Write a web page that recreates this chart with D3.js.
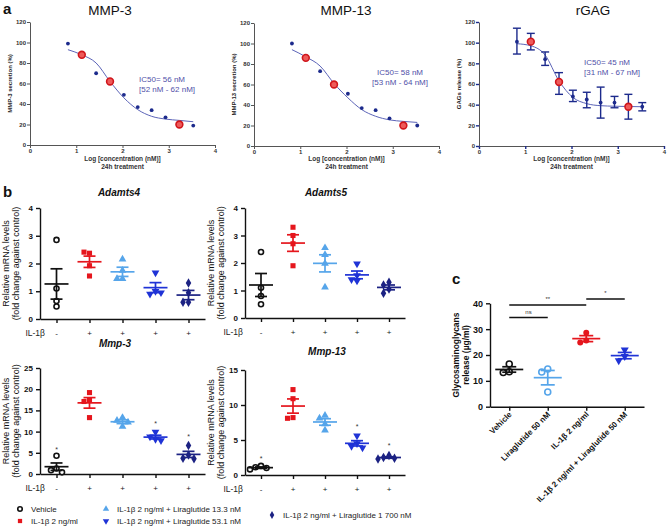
<!DOCTYPE html>
<head>
<meta charset="utf-8">
<script src="https://cdnjs.cloudflare.com/ajax/libs/d3/7.8.5/d3.min.js"></script>
<style>
  body { margin:0; background:#fff; }
  svg { font-family: "Liberation Sans", Arial, sans-serif; }
</style>
</head>
<body>
<script>
// ---- panel a : dose response (x = log concentration nM)
var logConc = [0.82, 1.12, 1.43, 1.73, 2.03, 2.33, 2.63, 2.93, 3.23, 3.53];
var highlighted = [1, 3, 8];
var mmp3Secretion = [99, 88, 70, 62, 49, 37, 34, 27, 20, 19];
var mmp3Fit = [93, 88, 80, 62, 46, 34.5, 28, 25.3, 24, 22.7];
var mmp13Secretion = [100, 86, 73, 60, 51, 37, 35, 27, 20, 20];
var mmp13Fit = [94, 87, 78, 61, 47, 35.5, 29, 25.5, 24, 23];
var gagRelease = [101, 101, 84, 62, 48, 45, 42, 42, 38, 38];
var gagHigh = [114, 109, 91, 71, 54, 52, 57, 48, 50, 42];
var gagLow = [89, 93, 78, 50, 43, 37, 27, 37, 26, 34];
var gagFit = [99, 97, 88, 63, 47, 41, 39, 38.5, 38.2, 38];

// ---- panel b : relative mRNA levels, 4 replicates per group
var groups = ["Vehicle", "IL-1β 2 ng/ml", "IL-1β 2 ng/ml + Liraglutide 13.3 nM",
              "IL-1β 2 ng/ml + Liraglutide 53.1 nM", "IL-1β 2 ng/ml + Liraglutide 1 700 nM"];
var il1bSigns = ["-", "+", "+", "+", "+"];
var adamts4 = [[2.85, 1.1, 0.65, 0.45], [2.37, 2.41, 1.92, 1.55], [2.15, 1.75, 1.45, 1.45],
               [1.67, 1.0, 0.9, 0.95], [1.3, 0.95, 0.6, 0.6]];
var adamts5 = [[2.4, 1.1, 0.8, 0.5], [3.3, 3.0, 2.7, 1.9], [2.55, 2.3, 1.98, 1.12],
               [1.97, 1.55, 1.4, 1.35], [1.3, 1.2, 1.05, 0.9]];
var mmp3 = [[4.3, 1.3, 0.9, 0.4], [19.2, 17.5, 17.1, 13.3], [13.3, 12.6, 12.2, 11.2],
            [9.9, 8.8, 8.2, 7.9], [6.7, 4.5, 3.7, 3.6]];
var mmp13 = [[1.3, 1.1, 1.0, 0.8], [12.2, 10.9, 8.2, 8.1], [8.5, 8.1, 7.3, 6.4],
             [5.6, 4.5, 4.1, 3.9], [2.8, 2.5, 2.4, 2.3]];
var mmp3Stars = [6.2, null, null, 12.3, 9.3];
var mmp13Stars = [2.6, null, null, 7.1, 4.5];

// ---- panel c : glycosaminoglycans release (µg/ml)
var gagGroups = ["Vehicle", "Liraglutide 50 nM", "IL-1β 2 ng/ml", "IL-1β 2 ng/ml + Liraglutide 50 nM"];
var gagValues = [[16.5, 13.5, 13.2], [14.6, 13.4, 5.7], [28.6, 25.6, 24.8], [22.0, 19.5, 17.8]];
var sigBrackets = [{from: 0, to: 1, level: 34.5, label: "ns"},
                   {from: 0, to: 2, level: 39.3, label: "**"},
                   {from: 2, to: 3, level: 41.7, label: "*"}];

var colors = ["#111", "#e5161d", "#56a5ea", "#1f33d6", "#1c2283"];
var shapes = [d3.symbolCircle, d3.symbolSquare, d3.symbolTriangle, d3.symbolTriangle, d3.symbolDiamond];

var svg = d3.select("body").append("svg").attr("width", 669).attr("height", 532);

function label(txt, x, y, size, opts) {
  opts = opts || {};
  return svg.append("text").text(txt).attr("x", x).attr("y", y)
    .attr("font-size", size).attr("font-weight", opts.weight || "normal")
    .attr("font-style", opts.style || "normal").attr("fill", opts.fill || "#111")
    .attr("text-anchor", opts.anchor || "start");
}
function vlabel(txt, x, y, size, weight) {
  svg.append("text").text(txt).attr("transform", "translate(" + x + "," + y + ") rotate(-90)")
    .attr("text-anchor", "middle").attr("font-size", size).attr("font-weight", weight || "normal")
    .attr("fill", "#111");
}

// ================= panel a
function doseResponse(o) {
  var x = d3.scaleLinear().domain([0, 4]).range([o.left, o.right]);
  var y = d3.scaleLinear().domain([0, 120]).range([o.bottom, o.top]);
  var g = svg.append("g");
  g.append("g").attr("transform", "translate(0," + o.bottom + ")")
    .call(d3.axisBottom(x).ticks(4).tickSize(3).tickPadding(1).tickSizeOuter(0).tickFormat(d3.format("d")));
  g.append("g").attr("transform", "translate(" + o.left + ",0)")
    .call(d3.axisLeft(y).tickValues(d3.range(0, 121, 20)).tickSize(3).tickPadding(1)
      .tickSizeOuter(0).tickFormat(d3.format("d")));
  g.selectAll(".domain, .tick line").attr("stroke", "#555");
  g.selectAll(".tick text").attr("font-size", 6).attr("font-weight", "bold").attr("fill", "#333");

  var cx = (o.left + o.right) / 2;
  label("Log [concentration (nM)]", cx, 161, 6.5, {anchor: "middle", weight: "bold", fill: "#333"});
  label("24h treatment", cx, 168.5, 6.5, {anchor: "middle", weight: "bold", fill: "#333"});
  svg.append("text").text(o.ylab).attr("transform", "translate(" + (o.left - 18) + "," + ((o.top + o.bottom) / 2) + ") rotate(-90)")
    .attr("text-anchor", "middle").attr("font-size", 6).attr("font-weight", "bold").attr("fill", "#222");
  label(o.title, o.titleX, 15, 13.5, {anchor: "middle"});

  g.append("path").datum(logConc)
    .attr("d", d3.line().x(function(d) { return x(d); })
      .y(function(d, i) { return y(o.fit[i]); }).curve(d3.curveMonotoneX))
    .attr("fill", "none").attr("stroke", "#5c64b8").attr("stroke-width", 1);

  if (o.hi) {
    logConc.forEach(function(c, i) {
      var px = x(c);
      g.append("line").attr("x1", px).attr("x2", px).attr("y1", y(o.hi[i])).attr("y2", y(o.lo[i]));
      g.append("line").attr("x1", px - 4).attr("x2", px + 4).attr("y1", y(o.hi[i])).attr("y2", y(o.hi[i]));
      g.append("line").attr("x1", px - 4).attr("x2", px + 4).attr("y1", y(o.lo[i])).attr("y2", y(o.lo[i]));
    });
    g.selectAll("line").attr("stroke", "#1c2a8c").attr("stroke-width", 1.4);
  }
  g.append("g").selectAll("circle").data(logConc).join("circle")
    .attr("cx", function(d) { return x(d); })
    .attr("cy", function(d, i) { return y(o.values[i]); })
    .attr("r", function(d, i) { return highlighted.indexOf(i) >= 0 ? 3.4 : 1.9; })
    .attr("fill", function(d, i) { return highlighted.indexOf(i) >= 0 ? "#ee5a5a" : "#1c2a8c"; })
    .attr("stroke", function(d, i) { return highlighted.indexOf(i) >= 0 ? "#d0161c" : "none"; })
    .attr("stroke-width", 1.6);

  o.ic50.forEach(function(t, k) {
    label(t, o.icX, o.icY + k * 9.5, 8, {fill: "#5050a8", anchor: o.icAnchor || "start"});
  });
}

label("a", 3, 14, 15, {weight: "bold"});
doseResponse({left: 30, right: 215, top: 22, bottom: 145, title: "MMP-3", titleX: 110,
  ylab: "MMP-3 secretion (%)", values: mmp3Secretion, fit: mmp3Fit,
  ic50: ["IC50= 56 nM", "[52 nM - 62 nM]"], icX: 139, icY: 82});
doseResponse({left: 254, right: 439, top: 23, bottom: 146, title: "MMP-13", titleX: 346,
  ylab: "MMP-13 secretion (%)", values: mmp13Secretion, fit: mmp13Fit,
  ic50: ["IC50= 58 nM", "[53 nM - 64 nM]"], icX: 400, icY: 75, icAnchor: "middle"});
doseResponse({left: 479, right: 664, top: 22, bottom: 146, title: "rGAG", titleX: 593,
  ylab: "GAGs release (%)", values: gagRelease, fit: gagFit, hi: gagHigh, lo: gagLow,
  ic50: ["IC50= 45 nM", "[31 nM - 67 nM]"], icX: 584, icY: 65});

// ================= shared helpers for dot plots
function swarm(vals, y, size) {
  var placed = [];
  return vals.map(function(v) {
    var py = y(v), cands = [0, -size, size, -2 * size, 2 * size], off = 0;
    for (var k = 0; k < cands.length; k++) {
      var ok = placed.every(function(p) { return Math.hypot(p[0] - cands[k], p[1] - py) >= size; });
      if (ok) { off = cands[k]; break; }
    }
    placed.push([off, py]);
    return {v: v, dx: off};
  });
}

function meanSem(g, px, vals, y, color, half, cap) {
  var m = d3.mean(vals), s = d3.deviation(vals) / Math.sqrt(vals.length);
  var seg = [[px - half, m, px + half, m], [px, m - s, px, m + s],
             [px - cap, m + s, px + cap, m + s], [px - cap, m - s, px + cap, m - s]];
  g.selectAll(null).data(seg).join("line")
    .attr("x1", function(d) { return d[0]; }).attr("y1", function(d) { return y(d[1]); })
    .attr("x2", function(d) { return d[2]; }).attr("y2", function(d) { return y(d[3]); })
    .attr("stroke", color).attr("stroke-width", 1.7);
}

function drawSymbol(g, shapeIdx, color, px, py, size, open) {
  g.append("path").attr("d", d3.symbol().type(shapes[shapeIdx]).size(size)())
    .attr("transform", "translate(" + px + "," + py + ")" + (shapeIdx === 3 ? " rotate(180)" : ""))
    .attr("fill", open ? "#fff" : color).attr("stroke", open ? color : "none").attr("stroke-width", 1.6);
}

function styleAxis(g, size) {
  g.selectAll(".domain, .tick line").attr("stroke", "#111").attr("stroke-width", 1.4);
  g.selectAll(".tick text").attr("font-size", size).attr("font-weight", "bold").attr("fill", "#111");
}

// ================= panel b
function dotPlot(o) {
  var x = d3.scalePoint().domain(d3.range(groups.length)).range([o.left, o.right]).padding(0.5);
  var y = d3.scaleLinear().domain([0, o.max]).range([o.bottom, o.top]);
  var g = svg.append("g");
  var ax = g.append("g").attr("transform", "translate(0," + o.bottom + ")")
    .call(d3.axisBottom(x).tickSize(4).tickSizeOuter(0).tickFormat(""));
  var ay = g.append("g").attr("transform", "translate(" + o.left + ",0)")
    .call(d3.axisLeft(y).tickValues(o.ticks).tickSize(4).tickSizeOuter(0).tickFormat(d3.format("d")));
  styleAxis(ax, 8); styleAxis(ay, 8);

  label(o.title, o.titleX, o.titleY, 10, {anchor: "middle", weight: "bold", style: "italic"});
  vlabel("Relative mRNA levels", o.left - 31, (o.top + o.bottom) / 2, 9);
  vlabel("(fold change against control)", o.left - 21.5, (o.top + o.bottom) / 2, 9);

  label("IL-1β", o.left + o.ilOffset, o.bottom + 17, 8.5, {anchor: "end", fill: "#222"});
  il1bSigns.forEach(function(s, i) {
    label(s, x(i), o.bottom + 17, 8, {anchor: "middle", fill: "#222"});
  });

  o.data.forEach(function(vals, i) {
    var px = x(i);
    swarm(vals, y, 5.5).forEach(function(p) {
      drawSymbol(g, i, colors[i], px + p.dx, y(p.v), i === 0 ? 20 : 26, i === 0);
    });
    meanSem(g, px, vals, y, colors[i], 12, 6);
    if (o.stars && o.stars[i] != null) {
      label("*", px, y(o.stars[i]) + 4, 7, {anchor: "middle", fill: "#333"});
    }
  });
}

label("b", 3, 197, 15, {weight: "bold"});
dotPlot({left: 40, right: 205, top: 208, bottom: 319, max: 4, ticks: [0, 1, 2, 3, 4],
  data: adamts4, title: "Adamts4", titleX: 119, titleY: 196, ilOffset: 5});
dotPlot({left: 245, right: 405, top: 208, bottom: 318, max: 4, ticks: [0, 1, 2, 3, 4],
  data: adamts5, title: "Adamts5", titleX: 326, titleY: 196, ilOffset: -2});
dotPlot({left: 40, right: 205, top: 368, bottom: 474, max: 25, ticks: [0, 5, 10, 15, 20, 25],
  data: mmp3, stars: mmp3Stars, title: "Mmp-3", titleX: 115, titleY: 347, ilOffset: 5});
dotPlot({left: 245, right: 405, top: 370, bottom: 475, max: 15, ticks: [0, 5, 10, 15],
  data: mmp13, stars: mmp13Stars, title: "Mmp-13", titleX: 327, titleY: 355, ilOffset: -2});

// ================= panel c
(function() {
  var x = d3.scalePoint().domain(d3.range(gagGroups.length)).range([490, 644]).padding(0.5);
  var y = d3.scaleLinear().domain([0, 40]).range([406.7, 303.3]);
  var g = svg.append("g");
  var ax = g.append("g").attr("transform", "translate(0,406.7)")
    .call(d3.axisBottom(x).tickSize(4).tickSizeOuter(0).tickFormat(""));
  var ay = g.append("g").attr("transform", "translate(490,0)")
    .call(d3.axisLeft(y).tickValues([0, 10, 20, 30, 40]).tickSize(4).tickSizeOuter(0).tickFormat(d3.format("d")));
  styleAxis(ax, 9); styleAxis(ay, 9);

  label("c", 452, 284, 15, {weight: "bold"});
  vlabel("Glycosaminoglycans", 459, 355, 8.5, "bold");
  vlabel("release (µg/ml)", 469, 355, 8.5, "bold");

  gagGroups.forEach(function(name, i) {
    svg.append("text").text(name)
      .attr("transform", "translate(" + (x(i) + 3) + ",415) rotate(-45)")
      .attr("text-anchor", "end").attr("font-size", 8).attr("font-weight", "bold").attr("fill", "#111");
  });

  var cCol = [colors[0], colors[2], colors[1], colors[3]];
  var cShape = [0, 0, 0, 3];
  gagValues.forEach(function(vals, i) {
    swarm(vals, y, 6).forEach(function(p) {
      drawSymbol(g, cShape[i], cCol[i], x(i) + p.dx, y(p.v), 28, i < 2);
    });
    meanSem(g, x(i), vals, y, cCol[i], 14, 7);
  });

  sigBrackets.forEach(function(b) {
    g.append("line").attr("x1", x(b.from)).attr("x2", x(b.to))
      .attr("y1", y(b.level)).attr("y2", y(b.level)).attr("stroke", "#111").attr("stroke-width", 1.5);
    label(b.label, (x(b.from) + x(b.to)) / 2, y(b.level) - 4, 6, {anchor: "middle", fill: "#333"});
  });
})();

// ================= legend
var legendPos = [[20, 509], [20, 521], [106, 509], [106, 521], [272, 515]];
groups.forEach(function(name, i) {
  var p = legendPos[i];
  drawSymbol(svg, i, colors[i], p[0], p[1], i === 0 ? 16 : 18, i === 0);
  svg.append("text").text(name).attr("x", p[0] + 11).attr("y", p[1] + 3)
    .attr("font-size", 8).attr("font-family", '"Liberation Sans Narrow", "Liberation Sans", Arial, sans-serif')
    .attr("fill", "#222");
});
</script>
</body>
